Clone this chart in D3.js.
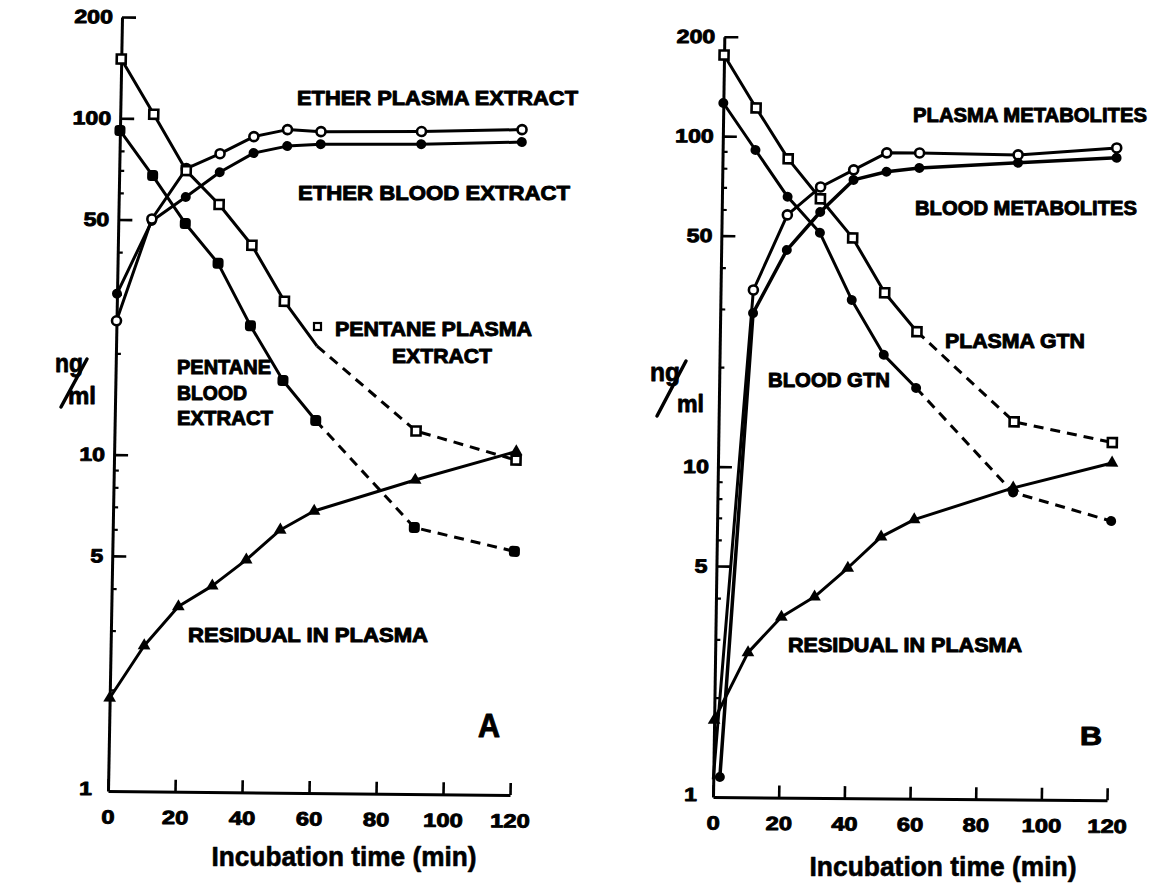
<!DOCTYPE html>
<html>
<head>
<meta charset="utf-8">
<script src="https://cdn.jsdelivr.net/npm/d3@7"></script>
<style>
  body { margin: 0; background: #fff; }
  svg text { font-family: "Liberation Sans", Arial, sans-serif; font-weight: bold; fill: #000; }
</style>
</head>
<body>
<svg id="chart" width="1161" height="885"></svg>
<script>
// ---- axis ticks ----
const xTicks = [0, 20, 40, 60, 80, 100, 120];
const yMajor = [1, 5, 10, 50, 100, 200];
const yMinor = [2, 3, 4, 6, 7, 8, 9, 20, 30, 40, 60, 70, 80, 90];

// ---- panel A: extraction of GTN (ng/ml) vs incubation time (min) ----
const timeA = [0, 10, 20, 30, 40, 50, 60, 90, 120];
const etherPlasmaA  = [25.0, 50.3, 71.2, 79.0, 89.0, 93.6, 92.5, 93.2, 95.1];
const etherBloodA   = [30.1, 49.6, 58.6, 69.6, 79.5, 83.6, 84.9, 85.5, 87.3];
const pentanePlasmaA = [150, 103, 70.2, 55.8, 42.3, 28.9, 21.3, 12.0, 9.9];
const pentaneBloodA  = [92, 67.7, 48.9, 37.3, 24.4, 16.8, 12.8, 6.2, 5.3];
const residualA      = [1.89, 2.71, 3.55, 4.10, 4.91, 6.04, 6.89, 8.58, 10.5];

// ---- panel B: GTN and metabolites (ng/ml) vs incubation time (min) ----
const timeB = [0, 10, 20, 30, 40, 50, 60, 90, 120];
const plasmaGtnB = [176, 122, 85.7, 65, 49.6, 33.9, 25.9, 13.9, 12.1];
const bloodGtnB  = [126, 91, 65.8, 51.3, 32.2, 22.0, 17.5, 8.5, 7.0];
const residualB  = [1.71, 2.74, 3.52, 4.06, 4.97, 6.19, 6.99, 8.77, 10.5];
const timePlasmaMetB = [0, 10, 20, 30, 40, 50, 60, 90, 120];
const plasmaMetB = [1.13, 34.3, 58, 70.6, 79.7, 89.9, 90.0, 89.3, 94.3];
const timeBloodMetB  = [2, 10, 20, 30, 40, 50, 60, 90, 120];
const bloodMetB  = [1.15, 29.2, 45.4, 59.3, 74.3, 78.8, 81.1, 84.5, 88];

const svg = d3.select("#chart");

function fitText(sel, factor) {
  sel.each(function () {
    const w = this.getComputedTextLength();
    if (w > 0) d3.select(this).attr("textLength", w * factor).attr("lengthAdjust", "spacingAndGlyphs");
  });
}

function marker(g, type, px, py) {
  if (type === "openCircle") {
    g.append("circle").attr("cx", px).attr("cy", py).attr("r", 4.5)
      .attr("fill", "#fff").attr("stroke", "#000").attr("stroke-width", 2.6);
  } else if (type === "filledCircle") {
    g.append("circle").attr("cx", px).attr("cy", py).attr("r", 5).attr("fill", "#000");
  } else if (type === "openSquare") {
    g.append("rect").attr("x", px - 4.5).attr("y", py - 4.5).attr("width", 9).attr("height", 9)
      .attr("fill", "#fff").attr("stroke", "#000").attr("stroke-width", 2.6);
  } else if (type === "filledSquare") {
    g.append("rect").attr("x", px - 5.5).attr("y", py - 5.5).attr("width", 11).attr("height", 11)
      .attr("rx", 3.5).attr("fill", "#000");
  } else if (type === "triangle") {
    g.append("path").attr("transform", `translate(${px},${py})`)
      .attr("d", d3.symbol(d3.symbolTriangle, 70)()).attr("fill", "#000");
  }
}

function series(g, x, y, times, values, opt) {
  const pts = times.map((t, i) => [x(t), y(values[i])]);
  const line = d3.line();
  const cut = opt.dashFrom == null ? pts.length - 1 : opt.dashFrom;
  g.append("path").attr("d", line(pts.slice(0, cut + 1)))
    .attr("fill", "none").attr("stroke", "#000").attr("stroke-width", opt.width || 3)
    .attr("stroke-linejoin", "round");
  if (cut < pts.length - 1) {
    g.append("path").attr("d", line(pts.slice(cut)))
      .attr("fill", "none").attr("stroke", "#000").attr("stroke-width", opt.width || 3)
      .attr("stroke-dasharray", "10,7");
  }
  pts.forEach((p, i) => {
    if (opt.skip && opt.skip.includes(i)) return;
    marker(g, opt.marker, p[0], p[1]);
  });
}

function heavy(sel, w) {
  sel.attr("stroke", "#000").attr("stroke-width", w).attr("stroke-linejoin", "round");
}

function panel(cfg) {
  // slight shear of the whole frame around its origin
  const g = svg.append("g")
    .attr("transform", `matrix(1,${cfg.b},${cfg.c},1,${-cfg.c * cfg.y0},${-cfg.b * cfg.x0})`);
  const x = d3.scaleLinear().domain([0, 120]).range([cfg.x0, cfg.x1]);
  const y = d3.scaleLog().domain([1, 200]).range([cfg.y0, cfg.yTop]);

  // minor ticks
  const yMinorAxis = g.append("g").attr("transform", `translate(${cfg.x0},0)`)
    .call(d3.axisLeft(y).tickValues(yMinor).tickSize(-5).tickSizeOuter(0).tickFormat(""));
  yMinorAxis.select(".domain").remove();
  yMinorAxis.selectAll("line").attr("stroke-width", 2.2);

  const yAxis = g.append("g").attr("transform", `translate(${cfg.x0},0)`)
    .call(d3.axisLeft(y).tickValues(yMajor).tickSize(-14).tickSizeOuter(0).tickPadding(9)
      .tickFormat(d3.format("d")));
  yAxis.select(".domain").attr("stroke-width", 3);
  yAxis.selectAll("line").attr("stroke-width", 2.6);
  yAxis.selectAll("text").attr("font-size", 19).attr("font-family", null).attr("font-weight", null)
    .call(heavy, 0.9);
  yAxis.selectAll("text").call(fitText, 1.22);
  yAxis.selectAll(".tick").filter(d => d === 1).select("text").attr("x", -16).attr("dy", "0.2em");
  yAxis.selectAll(".tick").filter(d => d === 1).select("line").remove();

  const xAxis = g.append("g").attr("transform", `translate(0,${cfg.y0})`)
    .call(d3.axisBottom(x).tickValues(xTicks).tickSize(-12).tickSizeOuter(0).tickPadding(19));
  xAxis.select(".domain").attr("stroke-width", 3);
  xAxis.selectAll("line").attr("stroke-width", 2.6);
  xAxis.selectAll("text").attr("font-size", 19).attr("font-family", null).attr("font-weight", null)
    .call(heavy, 0.9);
  xAxis.selectAll("text").call(fitText, 1.25);

  cfg.draw(g, x, y);
}

panel({
  x0: 108, x1: 510, y0: 791, yTop: 17, b: 0.01, c: -0.0181,
  draw(g, x, y) {
    series(g, x, y, timeA, etherBloodA, { marker: "filledCircle" });
    series(g, x, y, timeA, etherPlasmaA, { marker: "openCircle" });
    series(g, x, y, timeA, pentaneBloodA, { marker: "filledSquare", dashFrom: 6 });
    series(g, x, y, timeA, pentanePlasmaA, { marker: "openSquare", dashFrom: 6, skip: [6] });
    series(g, x, y, timeA, residualA, { marker: "triangle" });
  }
});

panel({
  x0: 713, x1: 1107, y0: 797, yTop: 36.7, b: 0.0085, c: -0.0149,
  draw(g, x, y) {
    series(g, x, y, timePlasmaMetB, plasmaMetB, { marker: "openCircle", width: 3, skip: [0] });
    series(g, x, y, timeBloodMetB, bloodMetB, { marker: "filledCircle", width: 3.5 });
    series(g, x, y, timeB, bloodGtnB, { marker: "filledCircle", dashFrom: 6 });
    series(g, x, y, timeB, plasmaGtnB, { marker: "openSquare", dashFrom: 6 });
    series(g, x, y, timeB, residualB, { marker: "triangle" });
  }
});

// ---- series labels ----
const labels = [
  ["ETHER PLASMA EXTRACT", 297, 105, 281, 21],
  ["ETHER BLOOD EXTRACT", 298, 200, 272, 21],
  ["PENTANE PLASMA", 335, 336, 197, 21],
  ["EXTRACT", 392, 363, 100, 21],
  ["PENTANE", 177, 374, 94, 20],
  ["BLOOD", 177, 400, 70, 20],
  ["EXTRACT", 177, 425, 96, 20],
  ["RESIDUAL IN PLASMA", 188, 642, 240, 20],
  ["A", 478, 737, 22, 34],
  ["PLASMA METABOLITES", 913, 122, 234, 21],
  ["BLOOD METABOLITES", 915, 215, 222, 21],
  ["PLASMA GTN", 945, 348, 140, 21],
  ["BLOOD GTN", 768, 387, 122, 21],
  ["RESIDUAL IN PLASMA", 788, 652, 234, 20],
  ["B", 1080, 745, 22, 25]
];
svg.selectAll("text.lbl").data(labels).join("text").attr("class", "lbl")
  .attr("x", d => d[1]).attr("y", d => d[2])
  .attr("font-size", d => d[4])
  .attr("textLength", d => d[3]).attr("lengthAdjust", "spacingAndGlyphs")
  .text(d => d[0])
  .call(heavy, 1);

// small square key beside the pentane plasma label
svg.append("rect").attr("x", 314).attr("y", 323).attr("width", 7).attr("height", 7)
  .attr("fill", "#fff").attr("stroke", "#000").attr("stroke-width", 2.2);

// ---- axis titles ----
function unitLabel(p) {
  svg.append("text").attr("x", p.ng[0]).attr("y", p.ng[1]).attr("font-size", 26)
    .attr("textLength", p.ng[2]).attr("lengthAdjust", "spacingAndGlyphs").text("ng").call(heavy, 0.8);
  svg.append("line").attr("x1", p.slash[0]).attr("y1", p.slash[1]).attr("x2", p.slash[2]).attr("y2", p.slash[3])
    .attr("stroke", "#000").attr("stroke-width", 3.5).attr("stroke-linecap", "round");
  svg.append("text").attr("x", p.ml[0]).attr("y", p.ml[1]).attr("font-size", 24)
    .attr("textLength", p.ml[2]).attr("lengthAdjust", "spacingAndGlyphs").text("ml").call(heavy, 0.8);
}
unitLabel({ ng: [55, 372, 28], slash: [61, 407, 87, 359], ml: [68, 404, 28] });
unitLabel({ ng: [650, 381, 30], slash: [657, 416, 686, 361], ml: [677, 412, 27] });

function xTitle(cx, y, w) {
  svg.append("text").attr("x", cx - w / 2).attr("y", y).attr("font-size", 27)
    .attr("textLength", w).attr("lengthAdjust", "spacingAndGlyphs")
    .text("Incubation time (min)").call(heavy, 0.6);
}
xTitle(344, 866, 265);
xTitle(943, 876, 267);
</script>
</body>
</html>
